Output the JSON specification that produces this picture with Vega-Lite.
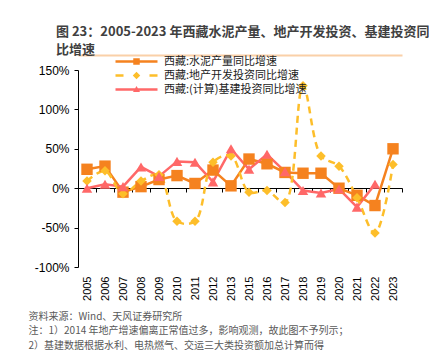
{
  "$schema": "https://vega.github.io/schema/vega-lite/v6.json",
  "width": 324,
  "height": 197,
  "autosize": {"type": "none"},
  "padding": {"left": 78, "top": 70, "right": 27, "bottom": 87},
  "background": "white",
  "config": {
    "view": {"stroke": null},
    "font": "Liberation Sans",
    "axisY": {"labelOverlap": false, "labelFlush": false}
  },
  "title": {
    "text": ["图 23：2005-2023 年西藏水泥产量、地产开发投资、基建投资同", "比增速"],
    "anchor": "start",
    "frame": "group",
    "dx": -22,
    "offset": -2,
    "font": "Noto Sans CJK SC",
    "fontSize": 13,
    "fontWeight": "bold",
    "color": "#404040",
    "lineHeight": 18
  },
  "data": {
    "values": [
      {"year": "2005", "series": "西藏:水泥产量同比增速", "value": 24},
      {"year": "2006", "series": "西藏:水泥产量同比增速", "value": 28},
      {"year": "2007", "series": "西藏:水泥产量同比增速", "value": -5},
      {"year": "2008", "series": "西藏:水泥产量同比增速", "value": 2},
      {"year": "2009", "series": "西藏:水泥产量同比增速", "value": 11},
      {"year": "2010", "series": "西藏:水泥产量同比增速", "value": 16},
      {"year": "2011", "series": "西藏:水泥产量同比增速", "value": 6},
      {"year": "2012", "series": "西藏:水泥产量同比增速", "value": 23},
      {"year": "2013", "series": "西藏:水泥产量同比增速", "value": 3},
      {"year": "2015", "series": "西藏:水泥产量同比增速", "value": 37},
      {"year": "2016", "series": "西藏:水泥产量同比增速", "value": 31},
      {"year": "2017", "series": "西藏:水泥产量同比增速", "value": 20},
      {"year": "2018", "series": "西藏:水泥产量同比增速", "value": 19},
      {"year": "2019", "series": "西藏:水泥产量同比增速", "value": 19},
      {"year": "2020", "series": "西藏:水泥产量同比增速", "value": 0},
      {"year": "2021", "series": "西藏:水泥产量同比增速", "value": -9},
      {"year": "2022", "series": "西藏:水泥产量同比增速", "value": -22},
      {"year": "2023", "series": "西藏:水泥产量同比增速", "value": 50},
      {"year": "2005", "series": "西藏:地产开发投资同比增速", "value": 9},
      {"year": "2006", "series": "西藏:地产开发投资同比增速", "value": 22},
      {"year": "2007", "series": "西藏:地产开发投资同比增速", "value": -7},
      {"year": "2008", "series": "西藏:地产开发投资同比增速", "value": 9},
      {"year": "2009", "series": "西藏:地产开发投资同比增速", "value": 17},
      {"year": "2010", "series": "西藏:地产开发投资同比增速", "value": -42},
      {"year": "2011", "series": "西藏:地产开发投资同比增速", "value": -42},
      {"year": "2012", "series": "西藏:地产开发投资同比增速", "value": 33},
      {"year": "2013", "series": "西藏:地产开发投资同比增速", "value": 41},
      {"year": "2015", "series": "西藏:地产开发投资同比增速", "value": -5},
      {"year": "2016", "series": "西藏:地产开发投资同比增速", "value": -3},
      {"year": "2017", "series": "西藏:地产开发投资同比增速", "value": -18},
      {"year": "2018", "series": "西藏:地产开发投资同比增速", "value": 130},
      {"year": "2019", "series": "西藏:地产开发投资同比增速", "value": 41},
      {"year": "2020", "series": "西藏:地产开发投资同比增速", "value": 28},
      {"year": "2021", "series": "西藏:地产开发投资同比增速", "value": -12},
      {"year": "2022", "series": "西藏:地产开发投资同比增速", "value": -57},
      {"year": "2023", "series": "西藏:地产开发投资同比增速", "value": 30},
      {"year": "2005", "series": "西藏:(计算)基建投资同比增速", "value": 0},
      {"year": "2006", "series": "西藏:(计算)基建投资同比增速", "value": 5},
      {"year": "2007", "series": "西藏:(计算)基建投资同比增速", "value": 2},
      {"year": "2008", "series": "西藏:(计算)基建投资同比增速", "value": 27},
      {"year": "2009", "series": "西藏:(计算)基建投资同比增速", "value": 15},
      {"year": "2010", "series": "西藏:(计算)基建投资同比增速", "value": 34},
      {"year": "2011", "series": "西藏:(计算)基建投资同比增速", "value": 33},
      {"year": "2012", "series": "西藏:(计算)基建投资同比增速", "value": 8},
      {"year": "2013", "series": "西藏:(计算)基建投资同比增速", "value": 50},
      {"year": "2015", "series": "西藏:(计算)基建投资同比增速", "value": 24},
      {"year": "2016", "series": "西藏:(计算)基建投资同比增速", "value": 43},
      {"year": "2017", "series": "西藏:(计算)基建投资同比增速", "value": 21},
      {"year": "2018", "series": "西藏:(计算)基建投资同比增速", "value": -3},
      {"year": "2019", "series": "西藏:(计算)基建投资同比增速", "value": -6},
      {"year": "2020", "series": "西藏:(计算)基建投资同比增速", "value": -1},
      {"year": "2021", "series": "西藏:(计算)基建投资同比增速", "value": -24},
      {"year": "2022", "series": "西藏:(计算)基建投资同比增速", "value": 5}
    ]
  },
  "resolve": {"axis": {"x": "independent"}},
  "layer": [
    {
      "transform": [{"filter": "datum.series != '西藏:地产开发投资同比增速'"}],
      "mark": {"type": "line", "strokeWidth": 2.5},
      "encoding": {
        "x": {
          "field": "year",
          "type": "ordinal",
          "scale": {"type": "point", "padding": 0.5},
          "axis": {
            "title": ["资料来源：Wind、天风证券研究所", "注：1）2014 年地产增速偏离正常值过多，影响观测，故此图不予列示；", "2）基建数据根据水利、电热燃气、交运三大类投资额加总计算而得"],
            "orient": "bottom",
            "offset": -79,
            "domainColor": "black",
            "domainWidth": 1,
            "tickColor": "black",
            "tickSize": 4,
            "tickOffset": 9,
            "labelOffset": -9,
            "labelAngle": 270,
            "labelAlign": "right",
            "labelBaseline": "middle",
            "labelPadding": 84,
            "labelFont": "Liberation Sans",
            "labelFontSize": 11,
            "labelColor": "black",
            "labelOverlap": false,
            "labelFlush": false,
            "titleX": -50,
            "titleY": 123,
            "titleAlign": "left",
            "titleAnchor": "start",
            "titleBaseline": "top",
            "titleAngle": 0,
            "titleFont": "Noto Sans CJK SC",
            "titleFontSize": 10,
            "titleFontWeight": "normal",
            "titleColor": "#595959",
            "titleLineHeight": 14.5
          }
        },
        "y": {
          "field": "value",
          "type": "quantitative",
          "scale": {"domain": [-100, 150], "nice": false},
          "axis": {
            "title": null,
            "values": [-100, -50, 0, 50, 100, 150],
            "tickCount": 6,
            "labelExpr": "datum.value + '%'",
            "labelOverlap": false,
            "domainColor": "black",
            "tickColor": "black",
            "tickSize": 4,
            "labelPadding": 5,
            "labelFontSize": 12,
            "labelColor": "black",
            "labelFont": "Liberation Sans",
            "grid": false
          }
        },
        "color": {
          "field": "series",
          "type": "nominal",
          "scale": {
            "domain": ["西藏:水泥产量同比增速", "西藏:地产开发投资同比增速", "西藏:(计算)基建投资同比增速"],
            "range": ["#F5821F", "#FDBE2A", "#FF6868"]
          },
          "legend": {
            "orient": "none",
            "legendX": 53,
            "legendY": -14,
            "title": null,
            "labelFont": "Noto Sans CJK SC",
            "labelFontSize": 11,
            "labelColor": "#222222",
            "symbolSize": 100,
            "labelOffset": 22,
            "rowPadding": 2,
            "encode": {
              "symbols": {
                "update": {
                  "shape": {"signal": "datum.value == '西藏:水泥产量同比增速' ? 'M-4.2,-0.25H4.2V0.25H-4.2ZM-0.65,-0.65H0.65V0.65H-0.65Z' : (datum.value == '西藏:地产开发投资同比增速' ? 'M-4.2,-0.25H-2.6V0.25H-4.2ZM2.6,-0.25H4.2V0.25H2.6ZM0,-0.75L0.75,0L0,0.75L-0.75,0Z' : 'M-4.2,-0.25H4.2V0.25H-4.2ZM0,-0.7L0.7,0.5H-0.7Z')"},
                  "fill": {"signal": "scale('color', datum.value)"},
                  "strokeWidth": {"value": 0},
                  "opacity": {"value": 1},
                  "size": {"value": 100}
                }
              }
            }
          }
        }
      }
    },
    {
      "transform": [{"filter": "datum.series == '西藏:地产开发投资同比增速'"}],
      "mark": {"type": "line", "strokeWidth": 2.5, "interpolate": "catmull-rom", "strokeDash": [7, 5]},
      "encoding": {
        "x": {
          "field": "year",
          "type": "ordinal",
          "axis": {"orient": "top", "offset": 15, "domainColor": "#FAD0A8", "domainWidth": 2, "ticks": false, "labels": false, "title": null}
        },
        "y": {"field": "value", "type": "quantitative"},
        "color": {"field": "series", "type": "nominal"}
      }
    },
    {
      "transform": [{"filter": "datum.series == '西藏:水泥产量同比增速'"}],
      "mark": {"type": "point", "shape": "square", "filled": true, "opacity": 1, "size": 130, "color": "#F5821F"},
      "encoding": {
        "x": {"field": "year", "type": "ordinal", "axis": null},
        "y": {"field": "value", "type": "quantitative"}
      }
    },
    {
      "transform": [{"filter": "datum.series == '西藏:地产开发投资同比增速'"}],
      "mark": {"type": "point", "shape": "diamond", "filled": true, "opacity": 1, "size": 90, "color": "#FDBE2A"},
      "encoding": {
        "x": {"field": "year", "type": "ordinal", "axis": null},
        "y": {"field": "value", "type": "quantitative"}
      }
    },
    {
      "transform": [{"filter": "datum.series == '西藏:(计算)基建投资同比增速'"}],
      "mark": {"type": "point", "shape": "triangle-up", "filled": true, "opacity": 1, "size": 110, "color": "#FF6868"},
      "encoding": {
        "x": {"field": "year", "type": "ordinal", "axis": null},
        "y": {"field": "value", "type": "quantitative"}
      }
    }
  ]
}
